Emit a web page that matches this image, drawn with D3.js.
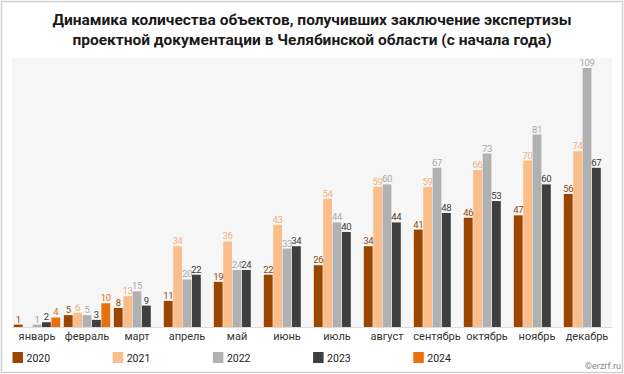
<!DOCTYPE html>
<html><head><meta charset="utf-8">
<script src="https://cdn.jsdelivr.net/npm/d3@7"></script>
<style>
html,body{margin:0;padding:0;background:#fff;}
svg{display:block;font-family:Roboto,"Noto Sans",sans-serif;}
</style></head>
<body>
<svg id="c" width="624" height="374"></svg>
<script>
const months = ["январь","февраль","март","апрель","май","июнь","июль","август","сентябрь","октябрь","ноябрь","декабрь"];
const years = ["2020","2021","2022","2023","2024"];
const v2020 = [1,5,8,11,19,22,26,34,41,46,47,56];
const v2021 = [null,6,13,34,36,43,54,59,59,66,70,74];
const v2022 = [1,5,15,20,24,33,44,60,67,73,81,109];
const v2023 = [2,3,9,22,24,34,40,44,48,53,60,67];
const v2024 = [4,10,null,null,null,null,null,null,null,null,null,null];
const barColors = ["#9a4600","#fbbd8a","#b1b1b1","#3f3f3f","#e9700c"];
const labelColors = ["#8a4a14","#f4b07a","#a8a8a8","#3a3a3a","#e07010"];
const titleLines = ["Динамика количества объектов, получивших заключение экспертизы","проектной документации в Челябинской области (с начала года)"];

const series = [v2020,v2021,v2022,v2023,v2024];
const svg = d3.select("#c");

// outer border
svg.append("rect").attr("x",1.5).attr("y",1.5).attr("width",621).attr("height",371)
  .attr("fill","#fff").attr("stroke","#d0d0d0").attr("stroke-width",1.5);

// title
svg.append("g").selectAll("text").data(titleLines).join("text")
  .attr("x",312).attr("y",(d,i)=>25+i*20)
  .attr("text-anchor","middle").attr("font-size",15.5).attr("font-weight","bold")
  .attr("fill","#1a1a1a").text(d=>d);

// plot area background
const plot = {x0:12,x1:612,top:58,base:327};
svg.append("rect").attr("x",plot.x0).attr("y",plot.top).attr("width",plot.x1-plot.x0).attr("height",plot.base-plot.top)
  .attr("fill","#f6f6f6");

const x0 = d3.scaleBand().domain(months).range([plot.x0,plot.x1]).paddingInner(0.05).paddingOuter(0.025);
const x1 = d3.scaleBand().domain(years).range([0,x0.bandwidth()]).padding(0.06);
const y = d3.scaleLinear().domain([0,109]).range([plot.base,plot.base-259]);

const data = [];
months.forEach((m,i)=>years.forEach((yr,k)=>{
  const v = series[k][i];
  if(v!==null && v!==undefined) data.push({m,yr,k,v});
}));

svg.append("g").selectAll("rect").data(data).join("rect")
  .attr("x",d=>x0(d.m)+x1(d.yr))
  .attr("y",d=>y(d.v))
  .attr("width",x1.bandwidth())
  .attr("height",d=>y(0)-y(d.v))
  .attr("fill",d=>barColors[d.k]);

svg.append("g").selectAll("text").data(data).join("text")
  .attr("x",d=>x0(d.m)+x1(d.yr)+x1.bandwidth()/2)
  .attr("y",d=>y(d.v)-2)
  .attr("text-anchor","middle").attr("font-size",9.5).attr("letter-spacing",-0.3)
  .attr("fill",d=>labelColors[d.k]).text(d=>d.v);

// baseline
svg.append("line").attr("x1",plot.x0).attr("x2",plot.x1).attr("y1",plot.base+0.5).attr("y2",plot.base+0.5)
  .attr("stroke","#dcdcdc");

// x axis labels
const ax = svg.append("g").attr("transform",`translate(0,${plot.base})`)
  .call(d3.axisBottom(x0).tickSize(0).tickPadding(5));
ax.select(".domain").remove();
ax.selectAll("text").attr("font-size",11).attr("fill","#333").attr("font-family","Roboto,sans-serif");

// legend
const lg = svg.append("g").selectAll("g").data(years).join("g")
  .attr("transform",(d,i)=>`translate(${12.5+i*100.2},352)`);
lg.append("rect").attr("width",10.5).attr("height",11).attr("fill",(d,i)=>barColors[i]);
lg.append("text").attr("x",14).attr("y",9.5).attr("font-size",10.5).attr("fill","#222").text(d=>d);

// copyright
svg.append("text").attr("x",621).attr("y",369).attr("text-anchor","end")
  .attr("font-size",9).attr("fill","#888").text("©erzrf.ru");
</script>
</body></html>
